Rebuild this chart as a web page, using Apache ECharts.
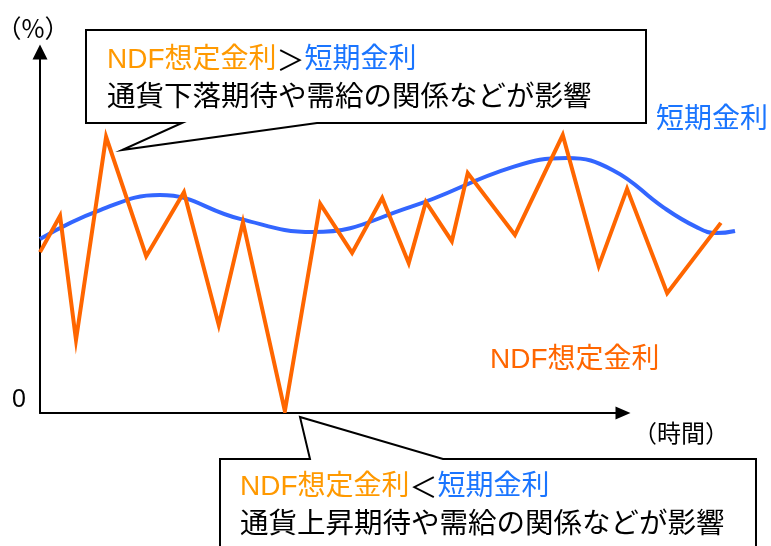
<!DOCTYPE html>
<html>
<head>
<meta charset="utf-8">
<script src="https://cdn.jsdelivr.net/npm/echarts@6/dist/echarts.min.js"></script>
<style>
html,body{margin:0;padding:0;background:#fff;}
#main{width:771px;height:546px;}
</style>
</head>
<body>
<div id="main"></div>
<script>
// NDF implied rate (orange) - time, value
const ndfX = [0, 3.4, 6.1, 11.2, 18.0, 24.4, 30.3, 34.4, 41.5, 47.5, 52.9, 58.0, 62.5, 65.4, 69.8, 72.5, 80.5, 88.6, 94.7, 99.5, 106.3, 115.4];
const ndfY = [4.34, 5.33, 1.94, 7.49, 4.23, 5.98, 2.35, 5.16, 0, 5.66, 4.32, 5.82, 4.04, 5.71, 4.64, 6.50, 4.81, 7.54, 3.96, 6.07, 3.22, 5.14];
// short-term rate (blue)
const shortX = [0, 10.2, 20.3, 33.9, 46.3, 62.7, 80.2, 89.3, 97.1, 105.6, 111.2, 114.7, 117.8];
const shortY = [4.70, 5.49, 5.90, 5.25, 4.89, 5.57, 6.67, 6.91, 6.58, 5.57, 5.03, 4.86, 4.92];
const yTickLabels = ['0'];
const yUnit = '（%）';
const xUnit = '（時間）';
const shortName = '短期金利';
const ndfName = 'NDF想定金利';

const FONT = "'Liberation Sans', 'Noto Sans CJK JP', sans-serif";
const CJK = "'Noto Sans CJK JP', sans-serif";
const ORANGE_LINE = '#ff6600';
const ORANGE_TXT = '#ff9900';
const BLUE_LINE = '#3366ff';
const BLUE_TXT = '#1a75ff';

const chart = echarts.init(document.getElementById('main'), null, {renderer: 'canvas'});

const txt = (x, y, text, size, color, align, fam) => ({
  type: 'text', x: x, y: y, z: 20,
  style: {text: text, font: size + 'px ' + (fam || FONT), fill: color, align: align || 'left', verticalAlign: 'middle'}
});
const richTxt = (x, y, text) => ({
  type: 'text', x: x, y: y, z: 20,
  style: {
    text: text, font: '28px ' + FONT, fill: '#000', verticalAlign: 'middle',
    rich: {
      o: {fill: ORANGE_TXT, font: '28px ' + FONT},
      b: {fill: BLUE_TXT, font: '28px ' + FONT},
      k: {fill: '#000', font: '28px ' + CJK}
    }
  }
});

chart.setOption({
  animation: false,
  backgroundColor: '#fff',
  grid: [
    {left: 40, top: 45, width: 708, height: 366},
    {left: 40, top: 52, width: 583, height: 361}
  ],
  xAxis: [
    {gridIndex: 0, type: 'value', min: 0, max: 120, show: false},
    {gridIndex: 1, type: 'value', min: 0, max: 100,
      axisLine: {show: true, lineStyle: {color: '#000', width: 2}, symbol: ['none', 'triangle'], symbolSize: [13, 15]},
      axisTick: {show: false}, axisLabel: {show: false}, splitLine: {show: false}}
  ],
  yAxis: [
    {gridIndex: 0, type: 'value', min: 0, max: 10, show: false},
    {gridIndex: 1, type: 'value', min: 0, max: 1, interval: 1,
      axisLine: {show: true, lineStyle: {color: '#000', width: 2}, symbol: ['none', 'triangle'], symbolSize: [15, 15]},
      axisTick: {show: false}, splitLine: {show: false},
      axisLabel: {show: true, margin: 14, fontSize: 25, fontFamily: FONT, color: '#000', verticalAlign: 'bottom',
        formatter: (v) => (v === 0 ? yTickLabels[0] : '')}}
  ],
  series: [
    {type: 'line', xAxisIndex: 0, yAxisIndex: 0, data: shortX.map((x, i) => [x, shortY[i]]),
      smooth: 0.45, showSymbol: false, symbol: 'none',
      lineStyle: {color: BLUE_LINE, width: 4}, z: 2},
    {type: 'line', xAxisIndex: 0, yAxisIndex: 0, data: ndfX.map((x, i) => [x, ndfY[i]]),
      smooth: false, showSymbol: false, symbol: 'none',
      lineStyle: {color: ORANGE_LINE, width: 4, join: 'miter'}, z: 3}
  ],
  graphic: [
    // top callout
    {type: 'polygon', z: 10, shape: {points: [[86,30],[646,30],[646,123],[317,123],[122,150],[182,123],[86,123]]},
      style: {fill: '#fff', stroke: '#000', lineWidth: 2}},
    richTxt(107, 60, '{o|NDF想定金利}{k|＞}{b|短期金利}'),
    txt(107, 95, '通貨下落期待や需給の関係などが影響', 28.5, '#000', 'left', CJK),
    // bottom callout
    {type: 'polygon', z: 10, shape: {points: [[220,560],[220,459],[310,459],[300,417],[443,459],[756,459],[756,560]]},
      style: {fill: '#fff', stroke: '#000', lineWidth: 2}},
    richTxt(240, 487, '{o|NDF想定金利}{k|＜}{b|短期金利}'),
    txt(240, 522, '通貨上昇期待や需給の関係などが影響', 28.5, '#000', 'left', CJK),
    // labels
    txt(33, 28, yUnit, 25, '#000', 'center', CJK),
    txt(681, 433, xUnit, 24, '#000', 'center', CJK),
    txt(656, 120, shortName, 28, BLUE_TXT),
    txt(490, 360, ndfName, 28, ORANGE_LINE)
  ]
});
</script>
</body>
</html>
